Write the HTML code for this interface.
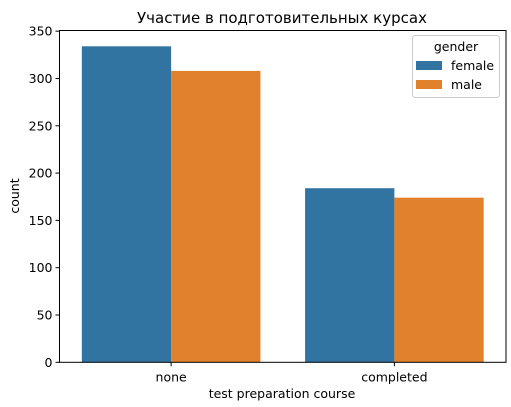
<!DOCTYPE html>
<html><head><meta charset="utf-8"><style>
body{margin:0;background:#fff;}
svg{display:block;font-family:"DejaVu Sans","Liberation Sans",sans-serif;}
</style></head><body>
<svg id="chart" width="511" height="407">
<text x="282" y="23" text-anchor="middle" font-size="15">Участие в подготовительных курсах</text>
<g id="bars"></g>
<g id="axes"></g>
<text x="282" y="398" text-anchor="middle" font-size="12.5">test preparation course</text>
<text transform="translate(19,196) rotate(-90)" text-anchor="middle" font-size="12.5">count</text>
<g>
<rect x="412.5" y="35.5" width="87" height="62" rx="3" fill="#fff" fill-opacity="0.8" stroke="#ccc"/>
<text x="456" y="51" text-anchor="middle" font-size="12.5">gender</text>
<rect x="416" y="61" width="26" height="9" fill="#3274a1"/>
<text x="451" y="70" font-size="12.5">female</text>
<rect x="416" y="80" width="26" height="9" fill="#e1812c"/>
<text x="451" y="89" font-size="12.5">male</text>
</g>
</svg>
<script>
const categories = ["none","completed"];
const series = ["female","male"];
const femaleValues = [334,184];
const maleValues = [308,174];
const yTicks = [0,50,100,150,200,250,300,350];
const colors = ["#3274a1","#e1812c"];

const L=59.5,R=506,T=30.5,B=362.3,yMax=350.7;
const x=v=>L+(v+0.5)*(R-L)/categories.length;
const y=v=>B-v*(B-T)/yMax;
const NS="http://www.w3.org/2000/svg";
const bars=document.getElementById('bars'),axes=document.getElementById('axes');
function mk(tag,attrs,parent){const e=document.createElementNS(NS,tag);for(const k in attrs)e.setAttribute(k,attrs[k]);parent.appendChild(e);return e;}
const vals=[femaleValues,maleValues];
const bw=0.4;
series.forEach((s,si)=>{
  categories.forEach((c,ci)=>{
    const x0=x(ci-0.4+si*bw),x1=x(ci-0.4+(si+1)*bw);
    const r=mk('rect',{x:x0,y:y(vals[si][ci]),width:x1-x0,height:B-y(vals[si][ci]),fill:colors[si]},bars);
    
    
  });
});
mk('rect',{x:L,y:T,width:R-L,height:B-T,fill:'none',stroke:'#000','stroke-width':1},axes);
yTicks.forEach(t=>{
  mk('line',{x1:L-4,x2:L,y1:y(t),y2:y(t),stroke:'#000'},axes);
  const tx=mk('text',{x:L-7,y:y(t)+4.5,'text-anchor':'end','font-size':12.5},axes);
  tx.textContent=t;
  
  
});
categories.forEach((c,ci)=>{
  mk('line',{x1:x(ci),x2:x(ci),y1:B,y2:B+4,stroke:'#000'},axes);
  const tx=mk('text',{x:x(ci),y:B+19,'text-anchor':'middle','font-size':12.5},axes);
  tx.textContent=c;
  
  
});
</script>
</body></html>
